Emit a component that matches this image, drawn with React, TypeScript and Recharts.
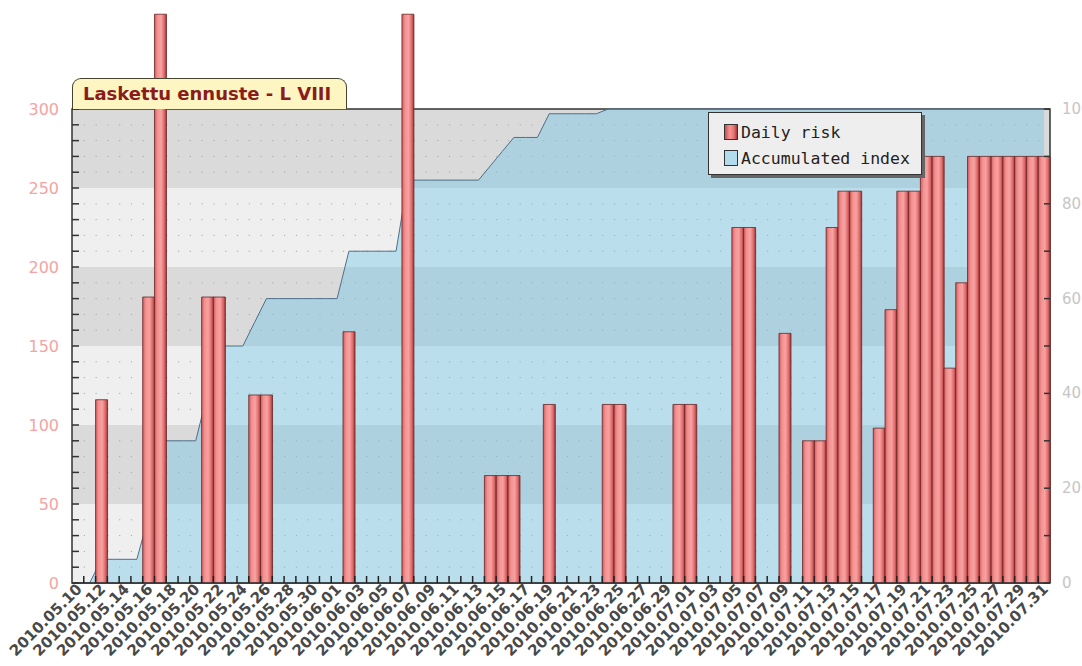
import React from 'react';
import {
  ComposedChart,
  Bar,
  Area,
  XAxis,
  YAxis,
  ReferenceArea,
  ReferenceLine,
  Legend,
} from 'recharts';

// Days shown on the x axis, one bar per day.
const dates = [
  '2010.05.10', '2010.05.11', '2010.05.12', '2010.05.13', '2010.05.14', '2010.05.15',
  '2010.05.16', '2010.05.17', '2010.05.18', '2010.05.19', '2010.05.20', '2010.05.21',
  '2010.05.22', '2010.05.23', '2010.05.24', '2010.05.25', '2010.05.26', '2010.05.27',
  '2010.05.28', '2010.05.29', '2010.05.30', '2010.05.31',
  '2010.06.01', '2010.06.02', '2010.06.03', '2010.06.04', '2010.06.05', '2010.06.06',
  '2010.06.07', '2010.06.08', '2010.06.09', '2010.06.10', '2010.06.11', '2010.06.12',
  '2010.06.13', '2010.06.14', '2010.06.15', '2010.06.16', '2010.06.17', '2010.06.18',
  '2010.06.19', '2010.06.20', '2010.06.21', '2010.06.22', '2010.06.23', '2010.06.24',
  '2010.06.25', '2010.06.26', '2010.06.27', '2010.06.28', '2010.06.29', '2010.06.30',
  '2010.07.01', '2010.07.02', '2010.07.03', '2010.07.04', '2010.07.05', '2010.07.06',
  '2010.07.07', '2010.07.08', '2010.07.09', '2010.07.10', '2010.07.11', '2010.07.12',
  '2010.07.13', '2010.07.14', '2010.07.15', '2010.07.16', '2010.07.17', '2010.07.18',
  '2010.07.19', '2010.07.20', '2010.07.21', '2010.07.22', '2010.07.23', '2010.07.24',
  '2010.07.25', '2010.07.26', '2010.07.27', '2010.07.28', '2010.07.29', '2010.07.30',
  '2010.07.31',
];

// Daily risk (left axis)
const dailyRisk = [
  0, 0, 116, 0, 0, 0, 181, 360, 0, 0,
  0, 181, 181, 0, 0, 119, 119, 0, 0, 0,
  0, 0, 0, 159, 0, 0, 0, 0, 360, 0,
  0, 0, 0, 0, 0, 68, 68, 68, 0, 0,
  113, 0, 0, 0, 0, 113, 113, 0, 0, 0,
  0, 113, 113, 0, 0, 0, 225, 225, 0, 0,
  158, 0, 90, 90, 225, 248, 248, 0, 98, 173,
  248, 248, 270, 270, 136, 190, 270, 270, 270, 270,
  270, 270, 270,
];

// Accumulated index (right axis)
const accumulatedIndex = [
  0, 0, 5, 5, 5, 5, 14, 30, 30, 30,
  30, 40, 50, 50, 50, 55, 60, 60, 60, 60,
  60, 60, 60, 70, 70, 70, 70, 70, 85, 85,
  85, 85, 85, 85, 85, 88, 91, 94, 94, 94,
  99, 99, 99, 99, 99, 100, 100, 100, 100, 100,
  100, 100, 100, 100, 100, 100, 100, 100, 100, 100,
  100, 100, 100, 100, 100, 100, 100, 100, 100, 100,
  100, 100, 100, 100, 100, 100, 100, 100, 100, 100,
  100, 100, 100,
];

const leftTicks = [0, 10, 20, 30, 40, 50, 60, 70, 80, 90, 100, 110, 120, 130, 140, 150,
  160, 170, 180, 190, 200, 210, 220, 230, 240, 250, 260, 270, 280, 290, 300];
const rightTicks = [0, 10, 20, 30, 40, 50, 60, 70, 80, 90, 100];
const dotRows = [10, 20, 30, 40, 60, 70, 80, 90, 110, 120, 130, 140, 160, 170, 180, 190,
  210, 220, 230, 240, 260, 270, 280, 290];
const bands = [
  { from: 0, to: 50, fill: '#efefef' },
  { from: 50, to: 100, fill: '#dadada' },
  { from: 100, to: 150, fill: '#efefef' },
  { from: 150, to: 200, fill: '#dadada' },
  { from: 200, to: 250, fill: '#efefef' },
  { from: 250, to: 300, fill: '#dadada' },
];

const SERIES_RISK = 'Daily risk';
const SERIES_INDEX = 'Accumulated index';

const data = dates.map((date, i) => ({
  date,
  risk: dailyRisk[i],
  index: accumulatedIndex[i],
}));

const LeftTick = (props: any) => {
  const { x, y, payload } = props;
  return (
    <g>
      <line x1={x + 13} y1={y} x2={x + 20} y2={y} stroke="#333" strokeWidth={1.5} />
      {payload.value % 50 === 0 && (
        <text x={x} y={y} dy={5.5} textAnchor="end" fill="#f5a3a3" fontSize={16}
          fontFamily="DejaVu Sans">{payload.value}</text>
      )}
    </g>
  );
};

const RightTick = (props: any) => {
  const { x, y, payload } = props;
  return (
    <g>
      <line x1={x - 12} y1={y} x2={x - 18} y2={y} stroke="#333" strokeWidth={1.5} />
      {payload.value % 20 === 0 && (
        <text x={x} y={y} dy={5} textAnchor="start" fill="#c6c6c6" fontSize={15}
          fontFamily="DejaVu Sans">{payload.value}</text>
      )}
    </g>
  );
};

const DateTick = (props: any) => {
  const { x, y, payload, index } = props;
  const half = payload && payload.offset ? payload.offset : 5.9;
  const tx = x + 5;
  const ty = y + 7;
  return (
    <g>
      {index > 0 && (
        <line x1={x - half} y1={y} x2={x - half} y2={y - 7} stroke="#222" strokeWidth={1.5} />
      )}
      {index % 2 === 0 && (
        <text x={tx} y={ty} textAnchor="end" transform={`rotate(-45 ${tx} ${ty})`}
          fill="#484848" fontSize={15} fontWeight="bold" fontFamily="DejaVu Sans">{payload.value}</text>
      )}
    </g>
  );
};

const LegendBox = () => (
  <div style={{
    width: 214, height: 63, boxSizing: 'border-box', background: '#eeeeee',
    border: '1.5px solid #333', boxShadow: '3px 3px 0 #666', padding: '6px 0 0 15px',
    fontFamily: '"DejaVu Sans Mono", monospace', fontSize: 16.5, color: '#222',
  }}>
    {[SERIES_RISK, SERIES_INDEX].map((name, i) => (
      <div key={name} style={{ display: 'flex', alignItems: 'center', height: 26 }}>
        <span style={{
          display: 'inline-block', width: 14, height: 16, marginRight: 3,
          border: '1px solid #333', boxSizing: 'border-box',
          background: i === 0 ? 'linear-gradient(90deg,#c85050,#f59595 40%,#e87070 75%,#9c3a3a)' : '#b2dcee',
        }} />
        <span>{name}</span>
      </div>
    ))}
  </div>
);

export default function App() {
  return (
    <div style={{ position: 'absolute', left: 0, top: 0, width: 1082, height: 666, background: '#fff' }}>
      <ComposedChart
        width={1082}
        height={666}
        data={data}
        margin={{ top: 0, right: 0, bottom: 0, left: 0 }}
        barCategoryGap={0}
        barGap={0}
      >
        <defs>
          <linearGradient id="barGrad" x1="0" y1="0" x2="1" y2="0">
            <stop offset="0%" stopColor="#cf5a5a" />
            <stop offset="25%" stopColor="#f49090" />
            <stop offset="55%" stopColor="#f7a2a2" />
            <stop offset="80%" stopColor="#e26c6c" />
            <stop offset="100%" stopColor="#9a3838" />
          </linearGradient>
        </defs>
        <XAxis
          dataKey="date"
          interval={0}
          height={83}
          tickSize={0}
          tickMargin={0}
          tickLine={false}
          axisLine={{ stroke: '#333', strokeWidth: 1.5 }}
          tick={<DateTick />}
        />
        <YAxis
          yAxisId="left"
          orientation="left"
          width={72}
          domain={[0, 369]}
          allowDataOverflow
          ticks={leftTicks}
          interval={0}
          tickSize={0}
          tickMargin={13}
          tickLine={false}
          axisLine={false}
          tick={<LeftTick />}
        />
        <YAxis
          yAxisId="right"
          orientation="right"
          width={32}
          domain={[0, 123]}
          allowDataOverflow
          ticks={rightTicks}
          interval={0}
          tickSize={0}
          tickMargin={12}
          tickLine={false}
          axisLine={false}
          tick={<RightTick />}
        />
        {bands.map((b) => (
          <ReferenceArea key={`band-${b.from}`} yAxisId="left" y1={b.from} y2={b.to}
            fill={b.fill} fillOpacity={1} stroke="none" zIndex={-95} />
        ))}
        {dotRows.map((v) => (
          <ReferenceLine key={`dot-${v}`} yAxisId="left" y={v} stroke="#a8a8a8"
            strokeDasharray="1.2 10.58" strokeWidth={1} zIndex={-90} />
        ))}
        <ReferenceArea yAxisId="left" y1={0} y2={300} fill="none" fillOpacity={0}
          stroke="#333" strokeWidth={1.5} zIndex={50} />
        <Area
          yAxisId="right"
          dataKey="index"
          name={SERIES_INDEX}
          type="linear"
          fill="#70c6e6"
          fillOpacity={0.42}
          stroke="#4f6f88"
          strokeWidth={1}
          dot={false}
          activeDot={false}
          isAnimationActive={false}
        />
        <Bar
          yAxisId="left"
          dataKey="risk"
          name={SERIES_RISK}
          fill="url(#barGrad)"
          stroke="#6a2424"
          strokeWidth={0.8}
          isAnimationActive={false}
        />
        <Legend
          layout="horizontal"
          verticalAlign="middle"
          align="center"
          content={<LegendBox />}
          wrapperStyle={{ position: 'absolute', left: 708, top: 112, width: 214, height: 63 }}
        />
      </ComposedChart>
      <div style={{
        position: 'absolute', left: 72, top: 78, width: 275, height: 31, boxSizing: 'border-box',
        background: '#fdf5c2', border: '1.5px solid #45452f', borderBottom: 'none',
        borderRadius: '9px 9px 0 0', paddingLeft: 10,
        fontFamily: '"DejaVu Sans", sans-serif', fontWeight: 'bold', fontSize: 18,
        lineHeight: '30px', color: '#8b1c1c', whiteSpace: 'nowrap',
      }}>
        Laskettu ennuste - L VIII
      </div>
    </div>
  );
}
